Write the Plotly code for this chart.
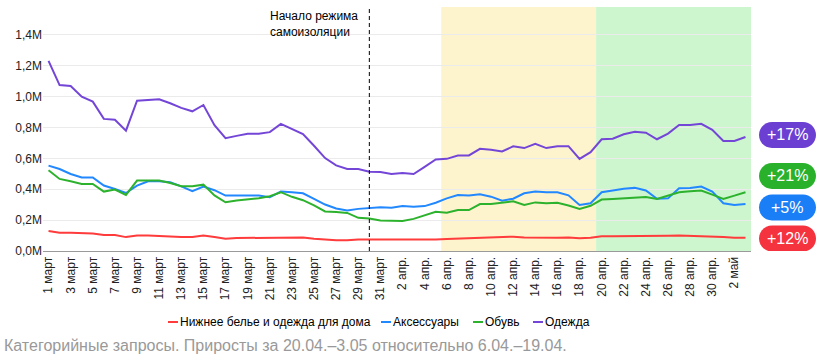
import plotly.graph_objects as go

# ---------------- data ----------------
days = list(range(64))  # 1 March .. 3 May
tick_idx = list(range(0, 64, 2))
tick_labels = [f"{d} март" for d in range(1, 32, 2)] + \
              [f"{d} апр." for d in range(2, 31, 2)] + ["2 май"]

underwear = [0.129, 0.118, 0.118, 0.114, 0.114, 0.103, 0.103, 0.090, 0.101, 0.101, 0.097, 0.095, 0.090, 0.090, 0.101, 0.090,
             0.080, 0.084, 0.084, 0.084, 0.084, 0.088, 0.088, 0.088, 0.080, 0.074, 0.069, 0.069, 0.074, 0.074, 0.074, 0.074,
             0.072, 0.073, 0.074, 0.075, 0.077, 0.080, 0.082, 0.084, 0.086, 0.088, 0.093, 0.088, 0.086, 0.086, 0.086, 0.088,
             0.082, 0.086, 0.095, 0.095, 0.095, 0.095, 0.095, 0.095, 0.099, 0.101, 0.099, 0.095, 0.095, 0.090, 0.086, 0.086]
accessories = [0.553, 0.531, 0.499, 0.477, 0.477, 0.424, 0.402, 0.376, 0.424, 0.452, 0.452, 0.445, 0.419, 0.387, 0.417, 0.394,
               0.359, 0.359, 0.363, 0.359, 0.348, 0.385, 0.381, 0.374, 0.338, 0.301, 0.275, 0.262, 0.273, 0.280, 0.284, 0.280,
               0.291, 0.287, 0.291, 0.313, 0.341, 0.363, 0.359, 0.367, 0.352, 0.326, 0.339, 0.374, 0.385, 0.381, 0.381, 0.361,
               0.298, 0.309, 0.381, 0.392, 0.403, 0.409, 0.392, 0.339, 0.341, 0.407, 0.409, 0.418, 0.385, 0.309, 0.298, 0.304]
shoes = [0.523, 0.467, 0.452, 0.434, 0.434, 0.385, 0.398, 0.363, 0.456, 0.456, 0.456, 0.441, 0.419, 0.419, 0.430, 0.360,
         0.316, 0.327, 0.335, 0.342, 0.355, 0.381, 0.351, 0.329, 0.295, 0.256, 0.252, 0.247, 0.215, 0.211, 0.198, 0.195,
         0.195, 0.208, 0.232, 0.254, 0.248, 0.265, 0.265, 0.304, 0.304, 0.313, 0.322, 0.298, 0.315, 0.309, 0.313, 0.295,
         0.272, 0.293, 0.333, 0.337, 0.341, 0.346, 0.350, 0.337, 0.359, 0.381, 0.387, 0.392, 0.365, 0.337, 0.359, 0.381]
clothes = [1.232, 1.075, 1.069, 1.000, 0.968, 0.856, 0.850, 0.780, 0.974, 0.978, 0.983, 0.957, 0.927, 0.905, 0.946, 0.815,
           0.731, 0.746, 0.759, 0.759, 0.770, 0.824, 0.789, 0.757, 0.682, 0.602, 0.555, 0.531, 0.531, 0.514, 0.512, 0.499,
           0.505, 0.499, 0.545, 0.593, 0.597, 0.619, 0.619, 0.662, 0.656, 0.645, 0.678, 0.667, 0.695, 0.667, 0.678, 0.679,
           0.597, 0.640, 0.724, 0.728, 0.756, 0.772, 0.767, 0.724, 0.761, 0.817, 0.817, 0.824, 0.785, 0.713, 0.713, 0.739]

series_names = ["Нижнее белье и одежда для дома", "Аксессуары", "Обувь", "Одежда"]
series_values = [underwear, accessories, shoes, clothes]
series_colors = ["#ff3b3b", "#2288ff", "#2db22d", "#7446d8"]

y_tick_vals = [0, 0.2, 0.4, 0.6, 0.8, 1.0, 1.2, 1.4]
y_tick_text = ["0,0M", "0,2M", "0,4M", "0,6M", "0,8M", "1,0M", "1,2M", "1,4M"]

lockdown_day = 29          # 30 March
base_period = (35.5, 49.5)  # 6.04 - 19.04
cmp_period = (49.5, 63.5)   # 20.04 - 3.05

badge_labels = ["+17%", "+21%", "+5%", "+12%"]
badge_colors = ["#6b3fd1", "#29b12c", "#1a7ef7", "#f5333f"]
badge_y = [0.752, 0.486, 0.282, 0.081]

caption = "Категорийные запросы. Приросты за 20.04.–3.05 относительно 6.04.–19.04."

# ---------------- figure ----------------
FONT = "Arial, Liberation Sans, sans-serif"
L, R, T, B = 43, 77, 7, 113
W, H = 828, 364
PW, PH = W - L - R, H - T - B

def px_x(p):
    return (p - L) / PW

def px_y(p):
    return (H - B - p) / PH

fig = go.Figure()
for name, vals, col in zip(series_names, series_values, series_colors):
    fig.add_trace(go.Scatter(x=days, y=vals, mode="lines", name=name,
                             line=dict(color=col, width=2), showlegend=False))

shapes = [
    dict(type="rect", xref="x", yref="paper", x0=base_period[0], x1=base_period[1], y0=0, y1=1,
         fillcolor="#fdf3cd", line=dict(width=0), layer="below"),
    dict(type="rect", xref="x", yref="paper", x0=cmp_period[0], x1=cmp_period[1], y0=0, y1=1,
         fillcolor="#cdf5ce", line=dict(width=0), layer="below"),
    dict(type="line", xref="x", yref="paper", x0=lockdown_day, x1=lockdown_day, y0=0, y1=1,
         line=dict(color="#000000", width=1, dash="4px,3px")),
]

# pill badges
hw, hh = 15.5, 13
k = 0.5523 * hh
pill = (f"M {-hw},{-hh} L {hw},{-hh} "
        f"C {hw + k},{-hh} {hw + hh},{-k} {hw + hh},0 "
        f"C {hw + hh},{k} {hw + k},{hh} {hw},{hh} "
        f"L {-hw},{hh} "
        f"C {-hw - k},{hh} {-hw - hh},{k} {-hw - hh},0 "
        f"C {-hw - hh},{-k} {-hw - k},{-hh} {-hw},{-hh} Z")
annotations = []
for lab, col, yv in zip(badge_labels, badge_colors, badge_y):
    shapes.append(dict(type="path", xref="paper", yref="y", xsizemode="pixel", ysizemode="pixel",
                       xanchor=px_x(787.5), yanchor=yv, path=pill,
                       fillcolor=col, line=dict(width=0)))
    annotations.append(dict(xref="paper", yref="y", x=px_x(787.5), y=yv, text=lab, showarrow=False,
                            font=dict(family=FONT, size=16, color="white"),
                            xanchor="center", yanchor="middle"))

# custom legend
legend_x = [168, 381, 473, 533]
for name, col, lx in zip(series_names, series_colors, legend_x):
    shapes.append(dict(type="line", xref="paper", yref="paper", x0=px_x(lx), x1=px_x(lx + 10),
                       y0=px_y(322), y1=px_y(322), line=dict(color=col, width=2)))
    annotations.append(dict(xref="paper", yref="paper", x=px_x(lx + 10), y=px_y(322), text=name,
                            showarrow=False, xanchor="left", yanchor="middle",
                            font=dict(family=FONT, size=12, color="#000000")))

annotations.append(dict(xref="paper", yref="paper", x=px_x(268), y=px_y(7),
                        text="Начало режима<br>самоизоляции", showarrow=False, align="left",
                        xanchor="left", yanchor="top",
                        font=dict(family=FONT, size=12, color="#000000")))
annotations.append(dict(xref="paper", yref="paper", x=px_x(2), y=px_y(345), text=caption,
                        showarrow=False, xanchor="left", yanchor="middle",
                        font=dict(family=FONT, size=16, color="#999999")))

fig.update_layout(
    width=W, height=H,
    margin=dict(l=L, r=R, t=T, b=B),
    paper_bgcolor="white", plot_bgcolor="white",
    showlegend=False,
    font=dict(family=FONT, size=12, color="#222222"),
    shapes=shapes, annotations=annotations,
    xaxis=dict(range=[-0.5, 63.5], tickmode="array", tickvals=tick_idx, ticktext=tick_labels,
               tickangle=-90, showgrid=False, zeroline=False, showline=True,
               linecolor="#9a9a9a", linewidth=1, ticks="", tickfont=dict(size=12, color="#222222")),
    yaxis=dict(range=[0, 1.581], tickmode="array", tickvals=y_tick_vals, ticktext=y_tick_text,
               showgrid=True, gridcolor="#ebebeb", gridwidth=1, zeroline=False, showline=False,
               ticks="", tickfont=dict(size=12, color="#222222")),
)

fig.write_html("out.html", config={"displayModeBar": False},
               post_script="document.body.style.margin='0';document.body.style.overflow='hidden';")
